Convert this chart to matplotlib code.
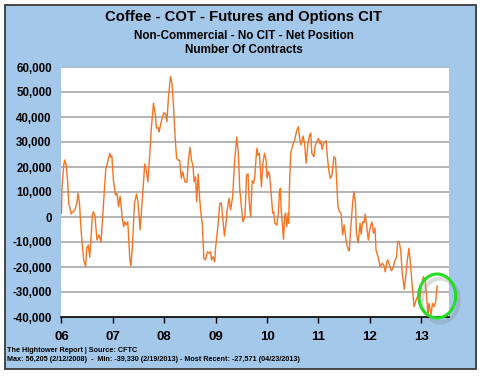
import matplotlib
matplotlib.use("Agg")
import matplotlib.pyplot as plt
from matplotlib.patches import Ellipse, Rectangle
import numpy as np

# weekly net position (decimal year, contracts in thousands)
dates = [
    2006.00, 2006.01, 2006.04, 2006.06, 2006.09, 2006.12, 2006.14, 2006.19,
    2006.22, 2006.25, 2006.27, 2006.30, 2006.32, 2006.35, 2006.38, 2006.43,
    2006.47, 2006.49, 2006.52, 2006.55, 2006.58, 2006.60, 2006.62, 2006.65,
    2006.69, 2006.73, 2006.77, 2006.81, 2006.86, 2006.90, 2006.94, 2006.96,
    2006.98, 2007.01, 2007.05, 2007.08, 2007.11, 2007.14, 2007.18, 2007.21,
    2007.23, 2007.26, 2007.29, 2007.33, 2007.35, 2007.38, 2007.42, 2007.46,
    2007.49, 2007.53, 2007.57, 2007.62, 2007.65, 2007.68, 2007.72, 2007.75,
    2007.79, 2007.82, 2007.85, 2007.89, 2007.90, 2007.94, 2007.99, 2008.03,
    2008.05, 2008.08, 2008.12, 2008.15, 2008.18, 2008.21, 2008.24, 2008.27,
    2008.30, 2008.33, 2008.36, 2008.40, 2008.44, 2008.47, 2008.50, 2008.53,
    2008.56, 2008.58, 2008.61, 2008.63, 2008.66, 2008.69, 2008.72, 2008.74,
    2008.77, 2008.80, 2008.84, 2008.87, 2008.90, 2008.92, 2008.95, 2008.98,
    2009.00, 2009.04, 2009.08, 2009.11, 2009.14, 2009.17, 2009.20, 2009.22,
    2009.26, 2009.29, 2009.33, 2009.37, 2009.41, 2009.44, 2009.47, 2009.50,
    2009.53, 2009.57, 2009.60, 2009.63, 2009.65, 2009.68, 2009.71, 2009.74,
    2009.76, 2009.80, 2009.82, 2009.85, 2009.87, 2009.89, 2009.92, 2009.95,
    2009.98, 2010.00, 2010.03, 2010.05, 2010.09, 2010.11, 2010.13, 2010.15,
    2010.19, 2010.22, 2010.24, 2010.26, 2010.27, 2010.30, 2010.32, 2010.34,
    2010.36, 2010.38, 2010.41, 2010.42, 2010.44, 2010.46, 2010.50, 2010.54,
    2010.58, 2010.61, 2010.63, 2010.66, 2010.70, 2010.73, 2010.76, 2010.80,
    2010.83, 2010.85, 2010.87, 2010.91, 2010.94, 2010.97, 2011.00, 2011.03,
    2011.05, 2011.07, 2011.10, 2011.15, 2011.17, 2011.20, 2011.23, 2011.26,
    2011.30, 2011.33, 2011.35, 2011.38, 2011.41, 2011.44, 2011.47, 2011.50,
    2011.54, 2011.58, 2011.60, 2011.63, 2011.67, 2011.69, 2011.72, 2011.74,
    2011.77, 2011.81, 2011.83, 2011.86, 2011.89, 2011.91, 2011.94, 2011.97,
    2011.99, 2012.02, 2012.04, 2012.07, 2012.10, 2012.12, 2012.16, 2012.20,
    2012.24, 2012.27, 2012.30, 2012.33, 2012.35, 2012.39, 2012.42, 2012.45,
    2012.48, 2012.52, 2012.54, 2012.57, 2012.60, 2012.63, 2012.67, 2012.69,
    2012.73, 2012.76, 2012.79, 2012.82, 2012.86, 2012.90, 2012.94, 2012.97,
    2013.00, 2013.04, 2013.07, 2013.10, 2013.13, 2013.15, 2013.19, 2013.22,
    2013.25, 2013.28, 2013.31,
]
net_k = [
    1.5, 12.0, 20.0, 22.8, 21.0, 14.0, 5.6, 1.2,
    2.1, 2.5, 3.5, 5.6, 9.5, 5.6, -5.2, -17.0,
    -19.9, -12.5, -11.2, -16.1, -6.5, 0.8, 2.1, 0.4,
    -9.2, -7.2, -9.9, 2.8, 18.8, 22.1, 25.5, 23.9,
    24.4, 14.8, 8.8, 9.5, 4.1, 8.4, 0.1, -3.9,
    -1.9, -3.2, -1.9, -17.2, -19.6, -11.9, 5.5, 9.2,
    5.6, -5.2, 6.8, 21.2, 18.8, 14.1, 25.5, 36.1,
    45.5, 41.5, 35.5, 35.7, 34.1, 38.1, 41.7, 41.0,
    38.1, 47.5, 56.2, 53.5, 44.1, 32.1, 23.5, 22.7,
    22.7, 15.5, 18.1, 14.1, 13.9, 22.8, 27.9, 22.8,
    20.1, 14.1, 16.1, 6.1, 17.2, 6.8, 0.1, -2.5,
    -16.5, -17.2, -13.9, -14.5, -13.9, -17.2, -15.9, -17.9,
    -11.9, -4.5, 5.5, 5.6, -1.2, -7.6, -2.5, 2.1,
    7.5, 2.8, 8.1, 22.8, 31.9, 25.5, 10.8, 4.1,
    -1.9, 0.1, 16.8, 17.2, 6.8, 0.1, 14.5, 13.5,
    16.1, 27.5, 24.8, 25.5, 18.8, 12.1, 21.5, 25.5,
    22.8, 15.5, 18.1, 16.8, 6.8, 1.5, 2.0, -2.5,
    -3.2, 1.5, 10.1, 11.5, 4.1, -3.9, -8.9, 0.1,
    1.5, -3.9, 1.5, -2.5, 14.8, 25.5, 28.8, 31.1,
    34.8, 36.1, 32.1, 28.8, 32.4, 29.2, 21.5, 30.1,
    32.8, 33.5, 25.5, 24.1, 28.8, 30.1, 31.5, 29.2,
    30.5, 27.0, 29.5, 30.5, 24.8, 18.8, 15.5, 16.5,
    24.1, 23.5, 16.1, 4.1, 2.1, 1.5, -7.2, -3.2,
    -9.9, -13.2, -13.5, -3.9, 6.8, 10.1, 5.5, -6.5,
    -10.3, -2.5, -6.9, -1.9, -2.2, 1.2, -3.9, -9.2,
    -5.9, -3.2, -1.9, -6.5, -4.5, -13.2, -15.9, -19.9,
    -18.5, -19.2, -21.9, -17.9, -17.2, -19.9, -21.5, -20.5,
    -17.9, -15.9, -9.9, -9.9, -13.2, -22.5, -28.9, -25.1,
    -17.2, -12.5, -18.5, -26.5, -35.9, -33.2, -31.2, -32.5,
    -27.9, -23.9, -25.0, -30.5, -39.3, -34.5, -39.2, -34.5,
    -35.9, -33.9, -27.6,
]
year_ticks = [2006, 2007, 2008, 2009, 2010, 2011, 2012, 2013]
year_labels = ["06", "07", "08", "09", "10", "11", "12", "13"]
y_ticks = [-40000, -30000, -20000, -10000, 0, 10000, 20000, 30000, 40000, 50000, 60000]

title = "Coffee - COT - Futures and Options CIT"
subtitle1 = "Non-Commercial - No CIT - Net Position"
subtitle2 = "Number Of Contracts"
footer1 = "The Hightower Report | Source: CFTC"
footer2 = ("Max: 56,205 (2/12/2008)  -  Min: -39,330 (2/19/2013) - "
           "Most Recent: -27,571 (04/23/2013)")

plt.rcParams['font.family'] = ['Liberation Sans', 'DejaVu Sans']
plt.rcParams['font.weight'] = 'bold'

W, H = 483, 380
fig = plt.figure(figsize=(W / 100, H / 100), dpi=100)
fig.patch.set_facecolor("white")

# blue panel with dark frame, kept behind the axes
panel = Rectangle((5 / W, 1 - 369 / H), 471 / W, 364 / H, transform=fig.transFigure,
                  facecolor="#a3c8ea", edgecolor="#3a3a3a", linewidth=1.3, zorder=-10)
fig.patches.append(panel)

ax = fig.add_axes([61.5 / W, 1 - 317 / H, (449 - 61.5) / W, (317 - 67) / H])
ax.set_facecolor("white")
ax.set_zorder(1)

values = np.array(net_k) * 1000
ax.plot(dates, values, color="#f47424", linewidth=1.0, zorder=3)

ax.set_xlim(2006.0, 2013.54)
ax.set_ylim(-40000, 60000)
ax.set_yticks(y_ticks)
ax.set_yticklabels([f"{v:,}" for v in y_ticks], fontsize=8.3, fontweight='bold')
ax.set_xticks(year_ticks)
ax.set_xticklabels(year_labels, fontsize=9.5, fontweight='bold')
ax.tick_params(axis='y', length=0, pad=7)
ax.tick_params(axis='x', length=4, width=1, direction='out', pad=6, color="black")

for v in y_ticks[1:]:
    ax.axhline(v, color="#a0a0a0", linewidth=1.1, zorder=1)

for side in ["left", "right", "top"]:
    ax.spines[side].set_visible(False)
ax.spines["bottom"].set_color("black")
ax.spines["bottom"].set_linewidth(1.2)
ax.spines["bottom"].set_zorder(4)

# green ring around the latest readings, with a soft drop shadow
recent = values[-10:]
cx = dates[-1]
cy = (recent.min() + recent.max()) / 2
shadow = Ellipse((cx + 0.06, cy - 1800), 0.72, 17600, facecolor="none",
                 edgecolor="#888888", linewidth=3, alpha=0.3, clip_on=False, zorder=4)
ring = Ellipse((cx, cy), 0.72, 17600, facecolor="none", edgecolor="#22dd22",
               linewidth=2.2, clip_on=False, zorder=5)
ax.add_patch(shadow)
ax.add_patch(ring)

fig.text(0.505, 1 - 17 / H, title, ha="center", va="center", fontsize=10.7, fontweight='bold')
fig.text(0.505, 1 - 36 / H, subtitle1, ha="center", va="center", fontsize=8.4, fontweight='bold')
fig.text(0.505, 1 - 50 / H, subtitle2, ha="center", va="center", fontsize=8.4, fontweight='bold')
fig.text(7 / W, 1 - 350.5 / H, footer1, ha="left", va="center", fontsize=5.2, fontweight='bold')
fig.text(7 / W, 1 - 359.5 / H, footer2, ha="left", va="center", fontsize=5.2, fontweight='bold')

fig.savefig("out.png", dpi=100)
